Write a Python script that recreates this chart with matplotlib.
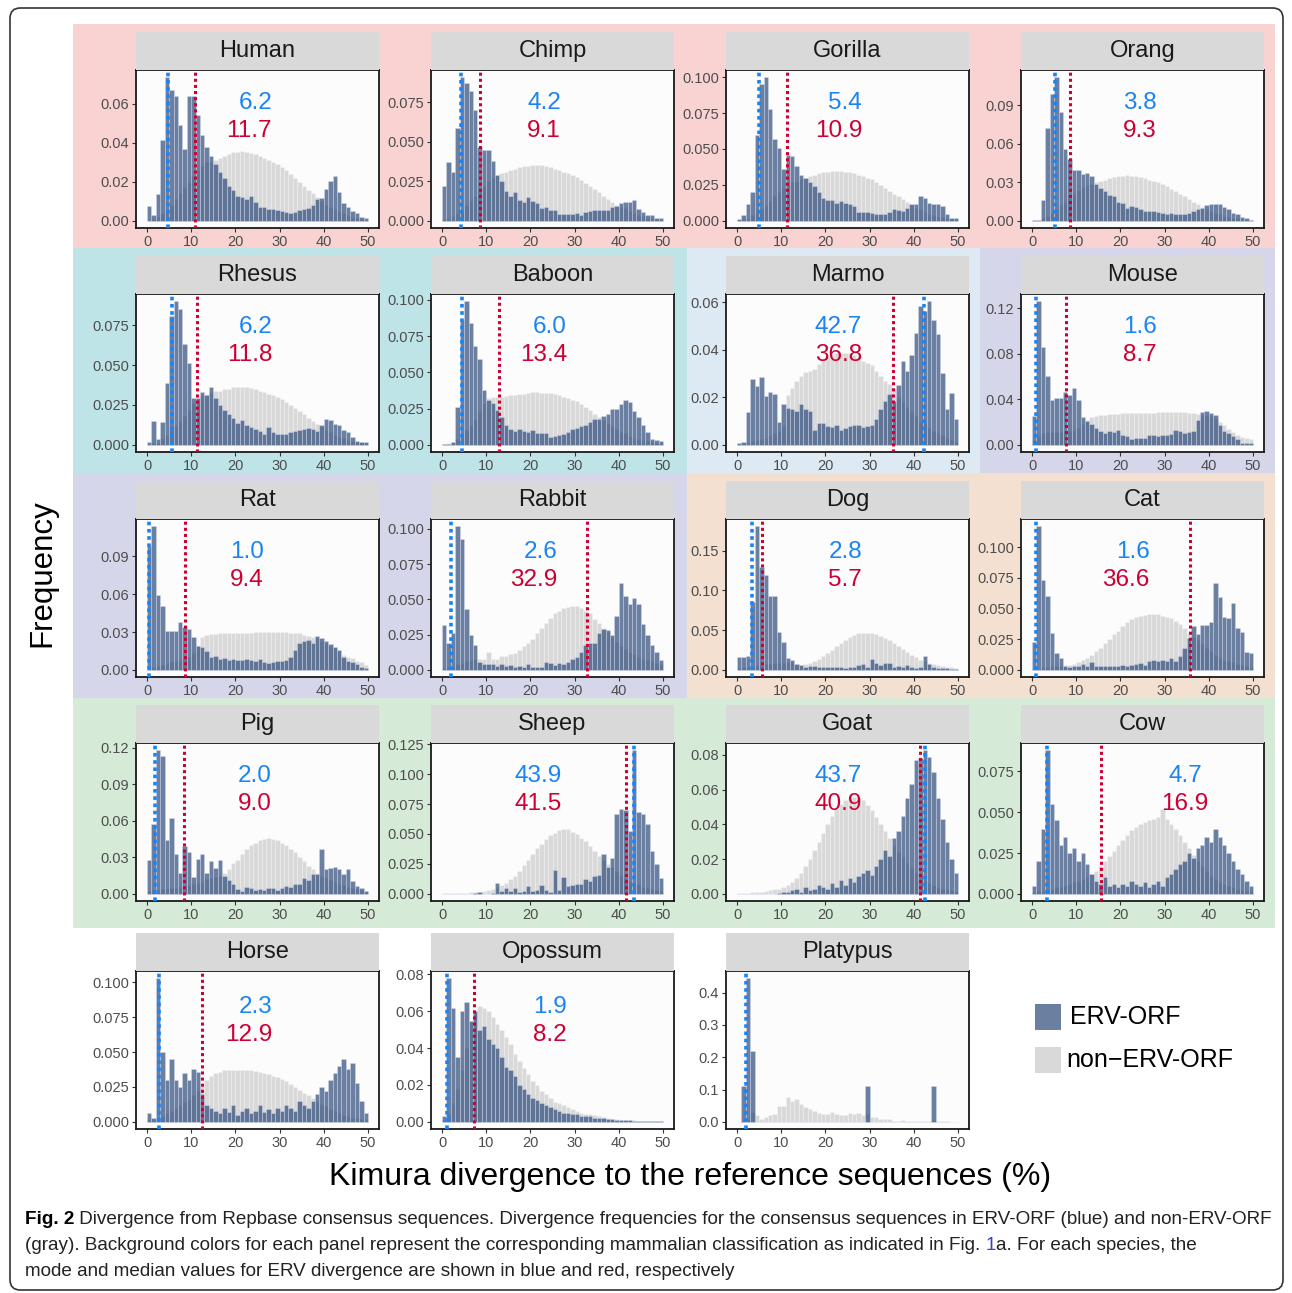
import numpy as np
import matplotlib
matplotlib.use('Agg')
import matplotlib.pyplot as plt
from matplotlib.patches import Rectangle, FancyBboxPatch
from matplotlib.text import Annotation

plt.rcParams['font.family'] = ['Liberation Sans', 'DejaVu Sans']

# ---- data (frequency per 1% bin, bins 0-1 ... 49-50) ----
species = ['Human', 'Chimp', 'Gorilla', 'Orang', 'Rhesus', 'Baboon', 'Marmo', 'Mouse',
           'Rat', 'Rabbit', 'Dog', 'Cat', 'Pig', 'Sheep', 'Goat', 'Cow',
           'Horse', 'Opossum', 'Platypus']
groups = ['ape'] * 4 + ['owm', 'owm', 'nwm', 'glires', 'glires', 'glires',
          'carn', 'carn', 'ungul', 'ungul', 'ungul', 'ungul', None, None, None]
mode_label = ['6.2', '4.2', '5.4', '3.8', '6.2', '6.0', '42.7', '1.6', '1.0', '2.6',
              '2.8', '1.6', '2.0', '43.9', '43.7', '4.7', '2.3', '1.9', None]
median_label = ['11.7', '9.1', '10.9', '9.3', '11.8', '13.4', '36.8', '8.7', '9.4', '32.9',
                '5.7', '36.6', '9.0', '41.5', '40.9', '16.9', '12.9', '8.2', None]
mode_line = [4.8, 4.3, 5.0, 5.1, 5.6, 4.6, 42.4, 0.9, 0.45, 2.1,
             3.4, 1.0, 1.9, 43.4, 42.5, 3.4, 2.7, 1.1, 2.0]
median_line = [10.9, 8.6, 11.3, 8.5, 11.2, 12.9, 35.4, 7.7, 8.7, 32.9,
               5.6, 35.8, 8.4, 41.6, 41.4, 15.5, 12.5, 7.3, None]
y_step = [0.02, 0.025, 0.025, 0.03, 0.025, 0.025, 0.02, 0.04, 0.03, 0.025,
          0.05, 0.025, 0.03, 0.025, 0.02, 0.025, 0.025, 0.02, 0.1]

human_erv = [0.0075, 0.003, 0.0137, 0.0415, 0.0735, 0.067, 0.064, 0.049, 0.037, 0.064,
             0.064, 0.054, 0.044, 0.038, 0.033, 0.029, 0.025, 0.022, 0.018, 0.016,
             0.0125, 0.012, 0.011, 0.0125, 0.0098, 0.0072, 0.007, 0.006, 0.0063, 0.0055,
             0.005, 0.0045, 0.004, 0.0045, 0.0055, 0.006, 0.0065, 0.008, 0.011, 0.0115,
             0.0165, 0.0205, 0.023, 0.0148, 0.0093, 0.007, 0.005, 0.004, 0.002, 0.0015]
human_non = [0.0, 0.001, 0.002, 0.004, 0.006, 0.008, 0.011, 0.014, 0.017, 0.020,
             0.023, 0.026, 0.028, 0.030, 0.030, 0.031, 0.032, 0.033, 0.034, 0.035,
             0.035, 0.0355, 0.035, 0.0345, 0.034, 0.033, 0.032, 0.031, 0.030, 0.029,
             0.0275, 0.026, 0.024, 0.022, 0.020, 0.018, 0.016, 0.014, 0.012, 0.010,
             0.008, 0.007, 0.006, 0.005, 0.004, 0.003, 0.002, 0.0015, 0.001, 0.0005]
chimp_erv = [0.022, 0.037, 0.031, 0.059, 0.091, 0.087, 0.082, 0.070, 0.047, 0.045,
             0.045, 0.038, 0.029, 0.025, 0.019, 0.016, 0.018, 0.013, 0.012, 0.015,
             0.0125, 0.011, 0.008, 0.009, 0.007, 0.0067, 0.0046, 0.0046, 0.0046, 0.0046,
             0.005, 0.004, 0.0056, 0.006, 0.0067, 0.007, 0.007, 0.007, 0.009, 0.0094,
             0.011, 0.012, 0.012, 0.013, 0.0077, 0.0056, 0.004, 0.0035, 0.002, 0.0015]
chimp_non = [0.001, 0.002, 0.003, 0.005, 0.007, 0.010, 0.013, 0.016, 0.019, 0.022,
             0.025, 0.027, 0.029, 0.030, 0.031, 0.032, 0.033, 0.034, 0.035, 0.035,
             0.0355, 0.0355, 0.0355, 0.035, 0.034, 0.033, 0.032, 0.031, 0.030, 0.029,
             0.0275, 0.026, 0.024, 0.022, 0.020, 0.018, 0.016, 0.014, 0.012, 0.010,
             0.009, 0.008, 0.006, 0.005, 0.004, 0.003, 0.002, 0.0015, 0.001, 0.0005]
gorilla_erv = [0.001, 0.004, 0.012, 0.020, 0.060, 0.095, 0.100, 0.078, 0.057, 0.051,
               0.036, 0.046, 0.045, 0.038, 0.032, 0.030, 0.027, 0.024, 0.020, 0.016,
               0.0145, 0.0145, 0.0125, 0.014, 0.0125, 0.012, 0.010, 0.0063, 0.0063, 0.006,
               0.0056, 0.005, 0.0047, 0.0047, 0.0063, 0.008, 0.0075, 0.007, 0.0087, 0.0117,
               0.012, 0.017, 0.016, 0.0125, 0.0117, 0.012, 0.010, 0.005, 0.0023, 0.0019]
gorilla_non = [0.0005, 0.001, 0.002, 0.004, 0.006, 0.008, 0.011, 0.014, 0.017, 0.020,
               0.023, 0.025, 0.027, 0.028, 0.029, 0.030, 0.031, 0.032, 0.033, 0.034,
               0.034, 0.035, 0.035, 0.035, 0.034, 0.034, 0.033, 0.032, 0.031, 0.030,
               0.029, 0.027, 0.025, 0.023, 0.021, 0.019, 0.017, 0.015, 0.013, 0.011,
               0.009, 0.008, 0.006, 0.005, 0.004, 0.003, 0.0025, 0.002, 0.0015, 0.001]
orang_erv = [0.0005, 0.0005, 0.016, 0.072, 0.099, 0.112, 0.085, 0.056, 0.048, 0.040,
             0.040, 0.0365, 0.037, 0.035, 0.029, 0.0255, 0.023, 0.020, 0.019, 0.015,
             0.0137, 0.0097, 0.0116, 0.011, 0.0092, 0.008, 0.0076, 0.008, 0.007, 0.0058,
             0.0052, 0.0058, 0.005, 0.0052, 0.0055, 0.006, 0.008, 0.0095, 0.0097, 0.0124,
             0.013, 0.013, 0.013, 0.011, 0.009, 0.006, 0.005, 0.003, 0.002, 0.001]
orang_non = [0.0005, 0.001, 0.002, 0.004, 0.006, 0.009, 0.012, 0.015, 0.018, 0.021,
             0.024, 0.026, 0.028, 0.029, 0.030, 0.031, 0.032, 0.033, 0.034, 0.035,
             0.035, 0.0355, 0.035, 0.035, 0.034, 0.033, 0.032, 0.031, 0.030, 0.029,
             0.027, 0.025, 0.023, 0.021, 0.019, 0.017, 0.015, 0.013, 0.011, 0.009,
             0.008, 0.006, 0.005, 0.004, 0.003, 0.0025, 0.002, 0.0015, 0.001, 0.0005]
rhesus_erv = [0.0017, 0.015, 0.0038, 0.014, 0.0385, 0.081, 0.090, 0.085, 0.063, 0.051,
              0.0295, 0.0295, 0.033, 0.031, 0.036, 0.0295, 0.025, 0.0217, 0.0196, 0.017,
              0.0139, 0.0154, 0.0126, 0.011, 0.0097, 0.0084, 0.007, 0.011, 0.008, 0.007,
              0.007, 0.007, 0.008, 0.0086, 0.009, 0.0097, 0.0105, 0.0097, 0.0088, 0.0126,
              0.0164, 0.0154, 0.0133, 0.0122, 0.009, 0.008, 0.0048, 0.0027, 0.0017, 0.0017]
rhesus_non = [0.0005, 0.001, 0.002, 0.004, 0.006, 0.009, 0.012, 0.015, 0.018, 0.022,
              0.026, 0.029, 0.031, 0.032, 0.033, 0.034, 0.034, 0.035, 0.035, 0.036,
              0.036, 0.036, 0.036, 0.0355, 0.035, 0.034, 0.033, 0.032, 0.031, 0.030,
              0.029, 0.027, 0.025, 0.023, 0.021, 0.019, 0.017, 0.015, 0.013, 0.011,
              0.009, 0.008, 0.006, 0.005, 0.004, 0.003, 0.0025, 0.002, 0.0015, 0.001]
baboon_erv = [0.0005, 0.0005, 0.002, 0.026, 0.086, 0.099, 0.084, 0.068, 0.059, 0.038,
              0.031, 0.0285, 0.024, 0.019, 0.014, 0.011, 0.0093, 0.0106, 0.0093, 0.0088,
              0.010, 0.008, 0.008, 0.008, 0.0053, 0.006, 0.007, 0.0076, 0.0088, 0.0106,
              0.0116, 0.013, 0.014, 0.0157, 0.0176, 0.018, 0.020, 0.0215, 0.0245, 0.025,
              0.0278, 0.031, 0.0296, 0.023, 0.019, 0.014, 0.0088, 0.0042, 0.003, 0.0025]
baboon_non = [0.0005, 0.001, 0.002, 0.004, 0.007, 0.010, 0.014, 0.018, 0.023, 0.028,
              0.032, 0.033, 0.033, 0.033, 0.0335, 0.034, 0.034, 0.035, 0.035, 0.036,
              0.0365, 0.0365, 0.036, 0.036, 0.0355, 0.035, 0.034, 0.033, 0.032, 0.031,
              0.030, 0.028, 0.026, 0.024, 0.021, 0.019, 0.017, 0.015, 0.013, 0.011,
              0.009, 0.008, 0.006, 0.005, 0.004, 0.003, 0.0025, 0.002, 0.0015, 0.001]
marmo_erv = [0.0007, 0.001, 0.0138, 0.0278, 0.0246, 0.0285, 0.0207, 0.0224, 0.0214, 0.0095,
             0.0171, 0.0157, 0.015, 0.0142, 0.0171, 0.015, 0.0142, 0.0061, 0.009, 0.009,
             0.0081, 0.0075, 0.0085, 0.0064, 0.0071, 0.0078, 0.0085, 0.0083, 0.0075, 0.0078,
             0.0085, 0.0107, 0.0152, 0.0185, 0.0216, 0.0185, 0.0252, 0.0352, 0.0309, 0.038,
             0.047, 0.0584, 0.0563, 0.0605, 0.0527, 0.0466, 0.0303, 0.0152, 0.0218, 0.0107]
marmo_non = [0.0003, 0.0006, 0.001, 0.0015, 0.002, 0.0025, 0.003, 0.004, 0.005, 0.006,
             0.008, 0.021, 0.024, 0.027, 0.029, 0.0305, 0.031, 0.032, 0.034, 0.036,
             0.037, 0.038, 0.0385, 0.0385, 0.0385, 0.0385, 0.038, 0.037, 0.0355, 0.0345,
             0.0335, 0.031, 0.029, 0.027, 0.0255, 0.024, 0.020, 0.018, 0.016, 0.014,
             0.012, 0.010, 0.009, 0.007, 0.006, 0.005, 0.004, 0.003, 0.002, 0.0015]
mouse_erv = [0.0254, 0.126, 0.0854, 0.0605, 0.0395, 0.041, 0.0415, 0.046, 0.044, 0.050,
             0.0395, 0.024, 0.021, 0.018, 0.0146, 0.0117, 0.0102, 0.0117, 0.011, 0.013,
             0.0088, 0.0073, 0.0053, 0.0058, 0.0058, 0.0064, 0.0088, 0.0082, 0.0073, 0.0082,
             0.0088, 0.0094, 0.013, 0.0117, 0.0102, 0.011, 0.0117, 0.022, 0.029, 0.030,
             0.028, 0.026, 0.0175, 0.0123, 0.0102, 0.0073, 0.0053, 0.002, 0.0018, 0.0015]
mouse_non = [0.004, 0.008, 0.010, 0.011, 0.011, 0.011, 0.011, 0.012, 0.012, 0.013,
             0.015, 0.018, 0.022, 0.024, 0.025, 0.026, 0.026, 0.027, 0.027, 0.027,
             0.0275, 0.0275, 0.028, 0.028, 0.028, 0.028, 0.028, 0.028, 0.0285, 0.0285,
             0.029, 0.029, 0.029, 0.029, 0.0285, 0.028, 0.0275, 0.027, 0.0265, 0.026,
             0.025, 0.023, 0.020, 0.017, 0.014, 0.011, 0.009, 0.007, 0.006, 0.005]
rat_erv = [0.098, 0.114, 0.059, 0.051, 0.031, 0.031, 0.031, 0.038, 0.034, 0.032,
           0.026, 0.019, 0.018, 0.015, 0.010, 0.0106, 0.0088, 0.0096, 0.008, 0.0088,
           0.0074, 0.0074, 0.0085, 0.008, 0.0069, 0.0088, 0.006, 0.0056, 0.006, 0.0069,
           0.0069, 0.008, 0.010, 0.0154, 0.021, 0.0229, 0.0234, 0.021, 0.0266, 0.0255,
           0.0229, 0.0207, 0.018, 0.0154, 0.010, 0.0069, 0.006, 0.0043, 0.002, 0.0016]
rat_non = [0.001, 0.002, 0.003, 0.004, 0.005, 0.006, 0.007, 0.008, 0.009, 0.010,
           0.013, 0.020, 0.026, 0.028, 0.0285, 0.0285, 0.029, 0.029, 0.029, 0.029,
           0.029, 0.029, 0.0295, 0.0295, 0.030, 0.030, 0.030, 0.030, 0.030, 0.030,
           0.030, 0.030, 0.0295, 0.029, 0.029, 0.028, 0.027, 0.026, 0.025, 0.023,
           0.021, 0.019, 0.017, 0.015, 0.012, 0.010, 0.009, 0.007, 0.006, 0.004]
rabbit_erv = [0.032, 0.019, 0.026, 0.102, 0.093, 0.043, 0.0246, 0.0175, 0.0055, 0.0038,
              0.0038, 0.0038, 0.0024, 0.0038, 0.0024, 0.0031, 0.0019, 0.0024, 0.0019, 0.0038,
              0.0019, 0.0019, 0.0019, 0.0055, 0.0048, 0.0031, 0.0048, 0.0038, 0.0055, 0.0079,
              0.009, 0.0127, 0.0175, 0.019, 0.0187, 0.026, 0.029, 0.028, 0.025, 0.038,
              0.062, 0.0526, 0.047, 0.051, 0.047, 0.0325, 0.0246, 0.0175, 0.0127, 0.0067]
rabbit_non = [0.001, 0.002, 0.003, 0.004, 0.005, 0.006, 0.007, 0.0075, 0.008, 0.008,
              0.013, 0.008, 0.008, 0.0096, 0.010, 0.011, 0.012, 0.014, 0.017, 0.019,
              0.022, 0.026, 0.030, 0.033, 0.037, 0.040, 0.042, 0.044, 0.0445, 0.045,
              0.045, 0.044, 0.042, 0.040, 0.036, 0.033, 0.030, 0.027, 0.023, 0.020,
              0.017, 0.015, 0.013, 0.011, 0.009, 0.008, 0.007, 0.006, 0.005, 0.004]
dog_erv = [0.016, 0.016, 0.017, 0.085, 0.181, 0.129, 0.120, 0.093, 0.093, 0.048,
           0.0345, 0.0147, 0.0126, 0.0076, 0.0063, 0.004, 0.005, 0.005, 0.0034, 0.004,
           0.0034, 0.004, 0.0034, 0.004, 0.002, 0.0034, 0.004, 0.0063, 0.0076, 0.004,
           0.0134, 0.0084, 0.0063, 0.0092, 0.0084, 0.004, 0.005, 0.0034, 0.0063, 0.004,
           0.002, 0.0034, 0.0168, 0.0076, 0.004, 0.002, 0.002, 0.0017, 0.0013, 0.0008]
dog_non = [0.002, 0.003, 0.004, 0.005, 0.006, 0.006, 0.007, 0.007, 0.008, 0.008,
           0.008, 0.009, 0.010, 0.007, 0.006, 0.007, 0.009, 0.011, 0.014, 0.017,
           0.021, 0.025, 0.030, 0.034, 0.038, 0.041, 0.044, 0.046, 0.047, 0.047,
           0.046, 0.045, 0.043, 0.040, 0.037, 0.034, 0.030, 0.026, 0.023, 0.019,
           0.016, 0.013, 0.011, 0.009, 0.007, 0.006, 0.005, 0.004, 0.003, 0.002]
cat_erv = [0.023, 0.117, 0.073, 0.060, 0.030, 0.014, 0.0098, 0.0028, 0.0022, 0.0028,
           0.0034, 0.005, 0.0034, 0.0062, 0.0028, 0.0034, 0.0028, 0.0034, 0.0034, 0.0028,
           0.0042, 0.0028, 0.0042, 0.005, 0.0056, 0.0042, 0.007, 0.0078, 0.007, 0.0078,
           0.007, 0.0098, 0.007, 0.0112, 0.018, 0.0258, 0.0358, 0.0294, 0.0364, 0.0364,
           0.039, 0.0706, 0.0594, 0.0434, 0.042, 0.0546, 0.034, 0.0308, 0.0146, 0.0134]
cat_non = [0.001, 0.001, 0.002, 0.002, 0.003, 0.003, 0.003, 0.004, 0.004, 0.005,
           0.006, 0.008, 0.010, 0.012, 0.015, 0.018, 0.022, 0.025, 0.029, 0.032,
           0.036, 0.039, 0.041, 0.043, 0.044, 0.045, 0.0455, 0.0455, 0.0455, 0.044,
           0.043, 0.042, 0.040, 0.037, 0.034, 0.030, 0.027, 0.024, 0.021, 0.018,
           0.015, 0.012, 0.010, 0.008, 0.007, 0.006, 0.005, 0.004, 0.003, 0.002]
pig_erv = [0.028, 0.057, 0.118, 0.113, 0.044, 0.062, 0.033, 0.0174, 0.039, 0.034,
           0.0138, 0.029, 0.0325, 0.0174, 0.027, 0.0215, 0.0275, 0.0146, 0.011, 0.0083,
           0.0036, 0.0022, 0.0055, 0.0044, 0.0028, 0.0036, 0.0028, 0.0044, 0.0044, 0.0028,
           0.005, 0.0063, 0.0055, 0.0077, 0.0083, 0.0132, 0.011, 0.016, 0.0165, 0.0366,
           0.020, 0.0215, 0.022, 0.020, 0.016, 0.020, 0.0105, 0.0063, 0.0044, 0.0022]
pig_non = [0.002, 0.003, 0.003, 0.004, 0.004, 0.005, 0.005, 0.006, 0.006, 0.007,
           0.008, 0.009, 0.010, 0.012, 0.013, 0.014, 0.015, 0.017, 0.020, 0.025,
           0.028, 0.033, 0.037, 0.040, 0.042, 0.044, 0.045, 0.046, 0.045, 0.044,
           0.042, 0.040, 0.037, 0.034, 0.030, 0.027, 0.023, 0.020, 0.017, 0.015,
           0.013, 0.011, 0.010, 0.008, 0.007, 0.006, 0.005, 0.004, 0.003, 0.002]
sheep_erv = [0.0, 0.0, 0.0, 0.0, 0.0, 0.0, 0.0, 0.0005, 0.0017, 0.0,
             0.0, 0.001, 0.009, 0.002, 0.0045, 0.002, 0.0045, 0.0017, 0.002, 0.0064,
             0.002, 0.0028, 0.0073, 0.0036, 0.0017, 0.0196, 0.0036, 0.014, 0.0064, 0.0073,
             0.0078, 0.0084, 0.012, 0.0106, 0.0148, 0.0157, 0.033, 0.0224, 0.030, 0.0667,
             0.071, 0.070, 0.0527, 0.120, 0.068, 0.0667, 0.058, 0.0358, 0.0246, 0.0134]
sheep_non = [0.0005, 0.0005, 0.0007, 0.001, 0.001, 0.001, 0.0012, 0.0015, 0.0018, 0.002,
             0.003, 0.004, 0.005, 0.007, 0.009, 0.012, 0.015, 0.019, 0.024, 0.028,
             0.033, 0.038, 0.042, 0.046, 0.049, 0.051, 0.053, 0.0545, 0.054, 0.052,
             0.050, 0.047, 0.044, 0.040, 0.036, 0.032, 0.028, 0.025, 0.022, 0.019,
             0.016, 0.013, 0.011, 0.009, 0.008, 0.006, 0.005, 0.004, 0.003, 0.002]
goat_erv = [0.0, 0.0, 0.0, 0.0, 0.0, 0.0, 0.0, 0.0, 0.0, 0.0005,
            0.001, 0.001, 0.002, 0.003, 0.001, 0.004, 0.002, 0.003, 0.005, 0.004,
            0.003, 0.006, 0.004, 0.008, 0.005, 0.009, 0.007, 0.010, 0.012, 0.014,
            0.011, 0.016, 0.020, 0.025, 0.022, 0.032, 0.036, 0.045, 0.055, 0.063,
            0.077, 0.078, 0.0827, 0.079, 0.070, 0.055, 0.043, 0.030, 0.020, 0.012]
goat_non = [0.0005, 0.0005, 0.0007, 0.001, 0.001, 0.0012, 0.0015, 0.002, 0.0025, 0.003,
            0.004, 0.005, 0.007, 0.009, 0.012, 0.016, 0.020, 0.025, 0.030, 0.035,
            0.040, 0.045, 0.049, 0.052, 0.054, 0.0555, 0.056, 0.0555, 0.054, 0.051,
            0.048, 0.044, 0.040, 0.036, 0.032, 0.028, 0.024, 0.021, 0.018, 0.015,
            0.012, 0.010, 0.008, 0.006, 0.005, 0.004, 0.003, 0.0025, 0.002, 0.0015]
cow_erv = [0.005, 0.020, 0.040, 0.088, 0.055, 0.045, 0.030, 0.035, 0.025, 0.028,
           0.020, 0.025, 0.018, 0.012, 0.008, 0.006, 0.010, 0.005, 0.006, 0.004,
           0.006, 0.005, 0.008, 0.006, 0.005, 0.007, 0.004, 0.006, 0.008, 0.005,
           0.010, 0.012, 0.015, 0.018, 0.020, 0.025, 0.022, 0.028, 0.030, 0.035,
           0.032, 0.040, 0.035, 0.030, 0.025, 0.020, 0.015, 0.012, 0.008, 0.005]
cow_non = [0.001, 0.0015, 0.002, 0.003, 0.003, 0.004, 0.004, 0.005, 0.006, 0.007,
           0.008, 0.009, 0.010, 0.012, 0.014, 0.017, 0.020, 0.023, 0.026, 0.030,
           0.033, 0.036, 0.039, 0.041, 0.043, 0.044, 0.045, 0.046, 0.047, 0.052,
           0.046, 0.043, 0.040, 0.036, 0.032, 0.028, 0.024, 0.020, 0.017, 0.014,
           0.011, 0.009, 0.007, 0.006, 0.005, 0.004, 0.003, 0.0025, 0.002, 0.0015]
horse_erv = [0.006, 0.003, 0.103, 0.050, 0.030, 0.045, 0.030, 0.025, 0.035, 0.030,
             0.038, 0.036, 0.020, 0.012, 0.010, 0.008, 0.006, 0.010, 0.007, 0.012,
             0.005, 0.008, 0.010, 0.006, 0.008, 0.012, 0.007, 0.009, 0.006, 0.010,
             0.008, 0.012, 0.010, 0.008, 0.015, 0.012, 0.010, 0.015, 0.020, 0.025,
             0.022, 0.030, 0.035, 0.040, 0.045, 0.038, 0.042, 0.028, 0.015, 0.006]
horse_non = [0.001, 0.002, 0.003, 0.004, 0.006, 0.008, 0.010, 0.012, 0.014, 0.016,
             0.019, 0.022, 0.026, 0.030, 0.033, 0.035, 0.036, 0.037, 0.037, 0.0375,
             0.0375, 0.0375, 0.037, 0.037, 0.0365, 0.036, 0.035, 0.034, 0.033, 0.032,
             0.031, 0.029, 0.027, 0.025, 0.023, 0.021, 0.019, 0.017, 0.015, 0.013,
             0.011, 0.009, 0.008, 0.006, 0.005, 0.004, 0.003, 0.0025, 0.002, 0.0015]
opossum_erv = [0.003, 0.078, 0.062, 0.035, 0.060, 0.065, 0.055, 0.060, 0.050, 0.052,
               0.045, 0.042, 0.040, 0.035, 0.030, 0.028, 0.025, 0.020, 0.018, 0.015,
               0.013, 0.012, 0.010, 0.009, 0.008, 0.007, 0.006, 0.005, 0.005, 0.004,
               0.004, 0.003, 0.003, 0.003, 0.002, 0.002, 0.002, 0.0015, 0.0015, 0.001,
               0.001, 0.0008, 0.0008, 0.0006, 0.0006, 0.0005, 0.0004, 0.0003, 0.0002, 0.0002]
opossum_non = [0.001, 0.004, 0.010, 0.018, 0.028, 0.040, 0.055, 0.060, 0.063, 0.062,
               0.060, 0.057, 0.053, 0.050, 0.046, 0.042, 0.037, 0.033, 0.029, 0.026,
               0.022, 0.020, 0.017, 0.015, 0.013, 0.011, 0.010, 0.009, 0.008, 0.007,
               0.006, 0.005, 0.0045, 0.004, 0.0035, 0.003, 0.0025, 0.002, 0.0018, 0.0015,
               0.0012, 0.001, 0.0009, 0.0008, 0.0007, 0.0006, 0.0005, 0.0004, 0.0003, 0.0002]
platypus_erv = [0.0, 0.11, 0.445, 0.22, 0.0, 0.0, 0.0, 0.0, 0.0, 0.0,
                0.0, 0.0, 0.0, 0.0, 0.0, 0.0, 0.0, 0.0, 0.0, 0.0,
                0.0, 0.0, 0.0, 0.0, 0.0, 0.0, 0.0, 0.0, 0.0, 0.11,
                0.0, 0.0, 0.0, 0.0, 0.0, 0.0, 0.0, 0.0, 0.0, 0.0,
                0.0, 0.0, 0.0, 0.0, 0.11, 0.0, 0.0, 0.0, 0.0, 0.0]
platypus_non = [0.0, 0.003, 0.010, 0.030, 0.020, 0.010, 0.015, 0.020, 0.025, 0.048,
                0.048, 0.078, 0.065, 0.070, 0.055, 0.045, 0.040, 0.035, 0.028, 0.025,
                0.025, 0.030, 0.025, 0.020, 0.022, 0.028, 0.025, 0.028, 0.020, 0.025,
                0.015, 0.015, 0.010, 0.008, 0.008, 0.004, 0.004, 0.005, 0.004, 0.003,
                0.002, 0.003, 0.002, 0.003, 0.005, 0.002, 0.003, 0.003, 0.0, 0.0]

erv = [human_erv, chimp_erv, gorilla_erv, orang_erv, rhesus_erv, baboon_erv, marmo_erv,
       mouse_erv, rat_erv, rabbit_erv, dog_erv, cat_erv, pig_erv, sheep_erv, goat_erv,
       cow_erv, horse_erv, opossum_erv, platypus_erv]
non_erv = [human_non, chimp_non, gorilla_non, orang_non, rhesus_non, baboon_non, marmo_non,
           mouse_non, rat_non, rabbit_non, dog_non, cat_non, pig_non, sheep_non, goat_non,
           cow_non, horse_non, opossum_non, platypus_non]

# ---- styling ----
group_color = {'ape': '#f9d3d2', 'owm': '#bfe4e8', 'nwm': '#dde9f3',
               'glires': '#d6d6ea', 'carn': '#f3e0d0', 'ungul': '#d5ebd8'}
BLUE_BAR = '#2d4a7a'
GRAY_BAR = '#d9d9d9'
MODE_C = '#1a84f5'
MEDIAN_C = '#cc0033'
# where the two numbers sit (axes fraction, right edge) - a few panels differ
label_x = {'Chimp': 0.535, 'Rat': 0.525, 'Rabbit': 0.52, 'Cat': 0.53, 'Sheep': 0.54}

W, H = 1292, 1293
fig = plt.figure(figsize=(W / 100, H / 100), dpi=100)

col_left = [136, 431, 726, 1021]
row_top = [70, 294, 519, 743, 971]
PW, PH, STRIP = 243, 158, 38
cell_x = [73, 382, 687, 980, 1275]
cell_y = [24, 248, 473, 698, 928]


def fig_rect(x, y, w, h, **kw):
    # pixel box (top-left origin) -> figure patch
    return Rectangle((x / W, 1 - (y + h) / H), w / W, h / H, transform=fig.transFigure, **kw)


# colored background blocks (below the axes)
for k, g in enumerate(groups):
    if g is None:
        continue
    r, c = divmod(k, 4)
    fig.patches.append(fig_rect(cell_x[c], cell_y[r], cell_x[c + 1] - cell_x[c],
                                cell_y[r + 1] - cell_y[r], color=group_color[g], lw=0,
                                zorder=-5))

bins = np.arange(50)
for k, name in enumerate(species):
    r, c = divmod(k, 4)
    ax = fig.add_axes([col_left[c] / W, 1 - (row_top[r] + PH) / H, PW / W, PH / H])
    ax.set_facecolor('#fcfcfc')
    ax.bar(bins, non_erv[k], width=1, align='edge', color=GRAY_BAR,
           edgecolor=(1, 1, 1, 0.4), linewidth=0.4, zorder=1)
    ax.bar(bins, erv[k], width=1, align='edge', color=BLUE_BAR, alpha=0.7,
           edgecolor=(0.85, 0.88, 0.95), linewidth=0.4, zorder=2)
    top = max(max(erv[k]), max(non_erv[k]))
    ax.set_ylim(-0.05 * top, 1.05 * top)
    ax.set_xlim(-2.5, 52.5)
    step = y_step[k]
    ax.set_yticks(np.arange(0, top * 1.05 + 1e-9, step))
    dec = len(repr(step).split('.')[1])
    ax.yaxis.set_major_formatter(plt.FormatStrFormatter('%.' + str(dec) + 'f'))
    ax.set_xticks([0, 10, 20, 30, 40, 50])
    ax.tick_params(labelsize=10.5, labelcolor='#4d4d4d', color='#333333',
                   length=3, width=0.8, pad=2)
    for sp in ax.spines.values():
        sp.set_linewidth(1.3)
        sp.set_color('#1a1a1a')

    ax.axvline(mode_line[k], color=MODE_C, lw=2.6, ls=(0, (1, 1)), zorder=4)
    if median_line[k] is not None:
        ax.axvline(median_line[k], color=MEDIAN_C, lw=2.2, ls=(0, (1, 1)), zorder=4)
    if mode_label[k] is not None:
        if name == 'Cow':
            tx, ha = 0.675, 'center'
        else:
            tx, ha = label_x.get(name, 0.56), 'right'
        ty = 0.77 if r == 4 else 0.79
        ax.text(tx, ty, mode_label[k], transform=ax.transAxes, ha=ha,
                va='center', color=MODE_C, fontsize=17.5, zorder=5)
        ax.text(tx, ty - 0.175, median_label[k], transform=ax.transAxes, ha=ha,
                va='center', color=MEDIAN_C, fontsize=17.5, zorder=5)

    # facet strip
    ax.add_patch(Rectangle((0, 1), 1, STRIP / PH, transform=ax.transAxes,
                           color='#d9d9d9', lw=0, clip_on=False, zorder=3))
    ax.text(0.5, 1 + STRIP / PH / 2, name, transform=ax.transAxes, ha='center',
            va='center', fontsize=17, color='#1a1a1a')

# legend
fig.patches.append(fig_rect(1035, 1004, 26, 26, color=BLUE_BAR, alpha=0.7, lw=0))
fig.patches.append(fig_rect(1035, 1047, 26, 26, color=GRAY_BAR, lw=0))
fig.text(1070 / W, 1 - 1017 / H, 'ERV-ORF', fontsize=18, va='center')
fig.text(1066 / W, 1 - 1060 / H, 'non\u2212ERV-ORF', fontsize=18, va='center')

# axis titles
fig.text(42 / W, 1 - 573 / H, 'Frequency', rotation=90, fontsize=22.5,
         ha='center', va='center')
fig.text(690 / W, 1 - 1177 / H, 'Kimura divergence to the reference sequences (%)',
         fontsize=23, ha='center', va='center')

# caption
cap_font = ['Liberation Sans Narrow', 'Liberation Sans', 'DejaVu Sans']
first = fig.text(25 / W, 1 - 1220 / H, 'Fig. 2', fontsize=13.6, fontweight='bold',
                 family=cap_font, va='center')
fig.add_artist(Annotation(
    ' Divergence from Repbase consensus sequences. Divergence frequencies for the '
    'consensus sequences in ERV-ORF (blue) and non-ERV-ORF',
    xy=(1, 0), xycoords=first, va='bottom', fontsize=13.6, family=cap_font,
    color='#222222', annotation_clip=False))
l2 = fig.text(25 / W, 1 - 1246 / H, '(gray). Background colors for each panel represent the '
              'corresponding mammalian classification as indicated in Fig. ',
              fontsize=13.6, family=cap_font, va='center', color='#222222')
ref = Annotation('1', xy=(1, 0), xycoords=l2, va='bottom', fontsize=13.6,
                 family=cap_font, color='#3344cc', annotation_clip=False)
fig.add_artist(ref)
fig.add_artist(Annotation(
    'a. For each species, the', xy=(1, 0), xycoords=ref, va='bottom',
    fontsize=13.6, family=cap_font, color='#222222', annotation_clip=False))
fig.text(25 / W, 1 - 1272 / H, 'mode and median values for ERV divergence are shown '
         'in blue and red, respectively', fontsize=13.6, family=cap_font,
         va='center', color='#222222')

# outer frame
fig.patches.append(FancyBboxPatch((10 / W, 1 - 1290 / H), 1273 / W, 1282 / H,
                                  boxstyle='round,pad=0,rounding_size=0.008',
                                  transform=fig.transFigure, fill=False,
                                  ec='#333333', lw=1.2, zorder=-5))

fig.savefig('out.png', dpi=100)
